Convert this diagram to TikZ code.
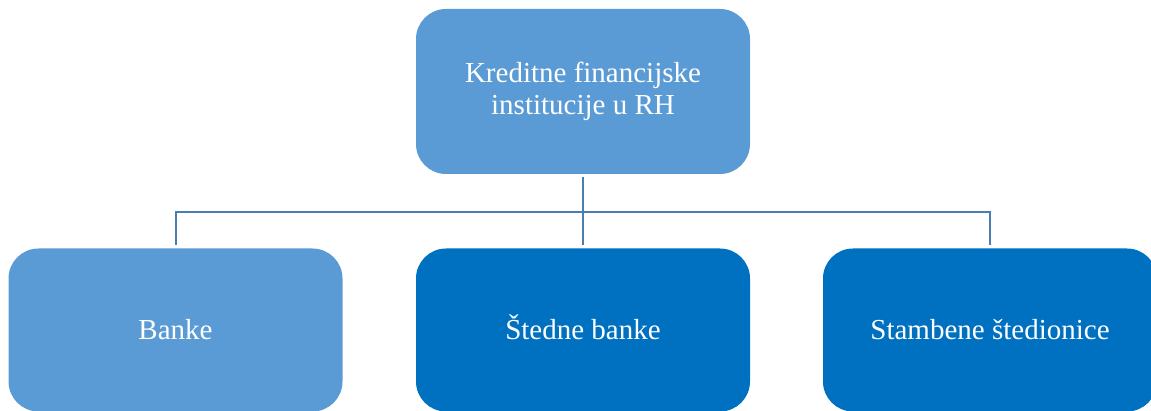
\documentclass[tikz,border=0pt]{standalone}
\usepackage{fontspec}
\setmainfont{Liberation Serif}
\definecolor{lightblue}{HTML}{5B9BD5}
\definecolor{darkblue}{HTML}{0070C0}
\definecolor{linecol}{HTML}{4A7EB0}
\tikzset{
  box/.style={rounded corners=30pt, minimum width=334pt, inner sep=0pt, text=white, align=center, font=\fontsize{29}{32}\selectfont},
  toplevel/.style={box, fill=lightblue, minimum height=165pt},
  lowlevel/.style={box, minimum height=163pt, text height=24pt, text depth=5pt},
  conn/.style={draw=linecol, line width=2pt, shorten <=3pt, shorten >=3pt}
}
\begin{document}
\begin{tikzpicture}[x=1pt,y=1pt]
\useasboundingbox (0,0) rectangle (1151,411);
\clip (0,0) rectangle (1151,411);
\node[toplevel] (top) at (583,319.5) {Kreditne financijske\\institucije u RH};
\node[lowlevel, fill=lightblue] (banke) at (175.5,81) {Banke};
\node[lowlevel, fill=darkblue] (stedne) at (583,81) {Štedne banke};
\node[lowlevel, fill=darkblue] (stamb) at (990,81) {Stambene štedionice};
\coordinate (hub) at ([yshift=-38pt]top.south);
\draw[conn, shorten >=0pt] (top.south) -- (hub);
\draw[conn, shorten <=0pt] (hub) -| (banke.north);
\draw[conn, shorten <=0pt] (hub) -- (stedne.north);
\draw[conn, shorten <=0pt] (hub) -| (stamb.north);
\end{tikzpicture}
\end{document}
